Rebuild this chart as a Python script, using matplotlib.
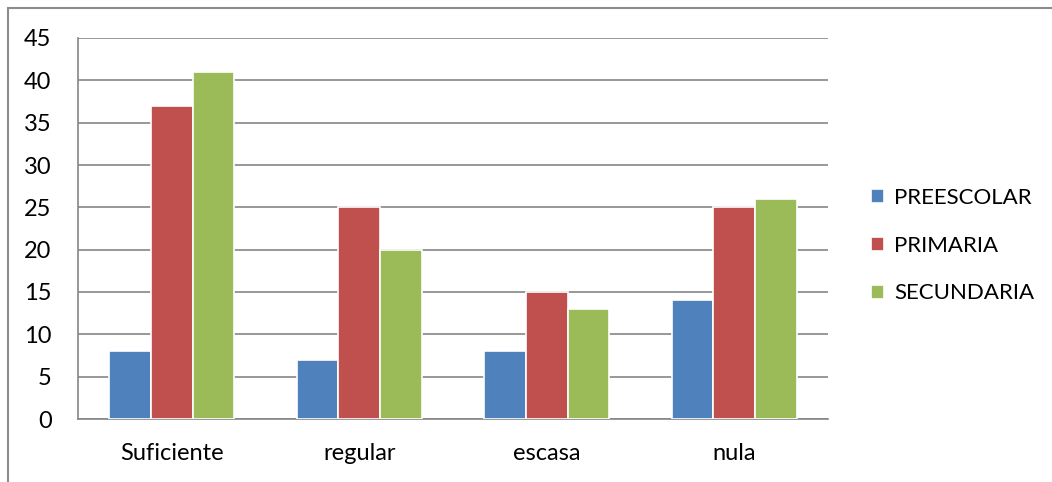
import numpy as np
import matplotlib.pyplot as plt
from matplotlib.patches import Rectangle

categories = ['Suficiente', 'regular', 'escasa', 'nula']
series = ['PREESCOLAR', 'PRIMARIA', 'SECUNDARIA']
preescolar = [8, 7, 8, 14]
primaria = [37, 25, 15, 25]
secundaria = [41, 20, 13, 26]
colors = ['#4F81BD', '#C0504D', '#9BBB59']

plt.rcParams['font.family'] = ['Lato', 'DejaVu Sans']

fig = plt.figure(figsize=(10.52, 4.82), dpi=100)
# outer chart border (only left and top visible)
fig.add_artist(Rectangle((8 / 1052, -0.1), 1.2, (482 - 8) / 482 + 0.1,
                         transform=fig.transFigure, fill=False,
                         edgecolor='#8c8c8c', lw=1.5))

ax = fig.add_axes([78 / 1052, (482 - 419) / 482, 750 / 1052, 381 / 482])

x = np.arange(len(categories))
w = 0.222
for i, vals in enumerate([preescolar, primaria, secundaria]):
    ax.bar(x + (i - 1) * w, vals, width=w, color=colors[i],
           edgecolor='white', lw=1.2, label=series[i], zorder=3)

ax.set_xlim(-0.5, 3.5)
ax.set_ylim(0, 45)
ax.set_yticks(range(0, 46, 5))
ax.set_xticks(x)
ax.set_xticklabels(categories)
ax.grid(axis='y', color='#868686', lw=1.2, zorder=0)
ax.tick_params(length=0, labelsize=17, colors='black')
ax.tick_params(axis='y', pad=19)
ax.tick_params(axis='x', pad=17)
for s in ['top', 'right']:
    ax.spines[s].set_visible(False)
for s in ['left', 'bottom']:
    ax.spines[s].set_color('#868686')
    ax.spines[s].set_linewidth(1.2)

ax.legend(loc='center left', bbox_to_anchor=(1.03, 0.455), frameon=False,
          fontsize=16, handlelength=0.6, handleheight=0.6,
          handletextpad=0.45, labelspacing=1.25)

fig.savefig('out.png', dpi=100)
